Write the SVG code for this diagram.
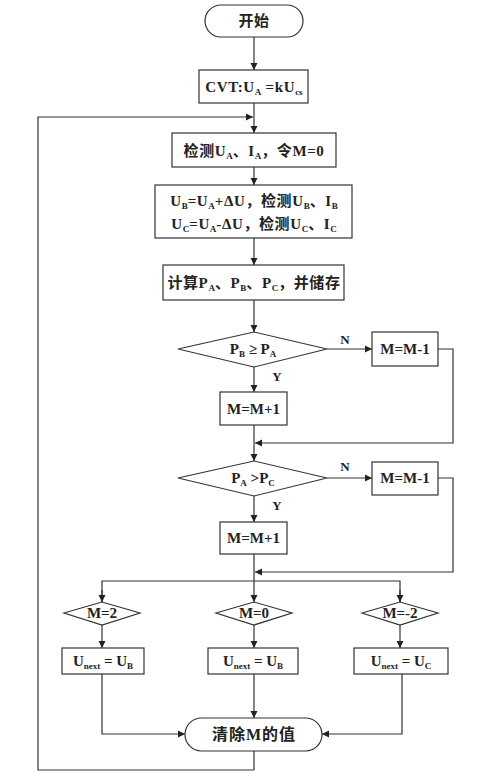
<svg xmlns="http://www.w3.org/2000/svg" width="499" height="782" viewBox="0 0 499 782">
<style>
.n{fill:#fff;stroke:#333;stroke-width:1.2}
.c{fill:none;stroke:#333;stroke-width:1.2}
text{font-family:"Liberation Serif","Noto Sans CJK SC",serif;font-size:15px;font-weight:bold;fill:#222;text-anchor:middle}
.w{letter-spacing:0.6px}
.s{font-size:9px;letter-spacing:0}
.l{font-size:13px}
</style>
<defs>
<marker id="a" markerWidth="8" markerHeight="8" refX="7" refY="4" orient="auto" markerUnits="userSpaceOnUse">
<path d="M0,0.5 L7,4 L0,7.5 Z" fill="#222"/>
</marker>
</defs>
<rect width="499" height="782" fill="#fff"/>
<g id="connectors">
<path class="c" d="M254,37 V70" marker-end="url(#a)"/>
<path class="c" d="M254,103 V133" marker-end="url(#a)"/>
<path class="c" d="M254,770 H38 V117 H253" marker-end="url(#a)"/>
<path class="c" d="M254,751 V770"/>
<path class="c" d="M254,167 V185" marker-end="url(#a)"/>
<path class="c" d="M254,238 V265" marker-end="url(#a)"/>
<path class="c" d="M254,300 V332" marker-end="url(#a)"/>
<path class="c" d="M327,349 H372" marker-end="url(#a)"/>
<path class="c" d="M438,349 H453 V443 H255" marker-end="url(#a)"/>
<path class="c" d="M254,367 V392" marker-end="url(#a)"/>
<path class="c" d="M254,425 V461" marker-end="url(#a)"/>
<path class="c" d="M327,478 H372" marker-end="url(#a)"/>
<path class="c" d="M438,478 H453 V572 H255" marker-end="url(#a)"/>
<path class="c" d="M254,496 V522" marker-end="url(#a)"/>
<path class="c" d="M254,554 V602" marker-end="url(#a)"/>
<path class="c" d="M102,602 V581 H400 V602" />
<path class="c" d="M102,590 V602" marker-end="url(#a)"/>
<path class="c" d="M400,590 V602" marker-end="url(#a)"/>
<path class="c" d="M102,625 V648" marker-end="url(#a)"/>
<path class="c" d="M254,625 V648" marker-end="url(#a)"/>
<path class="c" d="M400,625 V648" marker-end="url(#a)"/>
<path class="c" d="M102,674 V734 H185" marker-end="url(#a)"/>
<path class="c" d="M254,674 V718" marker-end="url(#a)"/>
<path class="c" d="M402,674 V734 H322" marker-end="url(#a)"/>
<text class="l" x="345" y="344">N</text>
<text class="l" x="277" y="381">Y</text>
<text class="l" x="345" y="471">N</text>
<text class="l" x="277" y="510">Y</text>
</g>
<g id="start">
<rect class="n" x="205" y="5" width="98" height="32" rx="16"/>
<text class="w" x="254" y="26">开始</text>
</g>
<g id="cvt">
<rect class="n" x="199" y="70" width="109" height="33"/>
<text class="w" x="254" y="92">CVT:U<tspan class="s" dy="3">A</tspan><tspan dy="-3"> =kU</tspan><tspan class="s" dy="3">cs</tspan></text>
</g>
<g id="detect">
<rect class="n" x="172" y="133" width="164" height="34"/>
<text class="w" x="254" y="156">检测U<tspan class="s" dy="3">A</tspan><tspan dy="-3">、I</tspan><tspan class="s" dy="3">A</tspan><tspan dy="-3">，令M=0</tspan></text>
</g>
<g id="perturb">
<rect class="n" x="155" y="185" width="197" height="53"/>
<text class="w" x="254" y="206">U<tspan class="s" dy="3">B</tspan><tspan dy="-3">=U</tspan><tspan class="s" dy="3">A</tspan><tspan dy="-3">+ΔU，检测U</tspan><tspan class="s" dy="3">B</tspan><tspan dy="-3">、I</tspan><tspan class="s" dy="3">B</tspan></text>
<text class="w" x="254" y="229">U<tspan class="s" dy="3">C</tspan><tspan dy="-3">=U</tspan><tspan class="s" dy="3">A</tspan><tspan dy="-3">-ΔU，检测U</tspan><tspan class="s" dy="3">C</tspan><tspan dy="-3">、I</tspan><tspan class="s" dy="3">C</tspan></text>
</g>
<g id="compute">
<rect class="n" x="163" y="265" width="181" height="35"/>
<text class="w" x="254" y="288">计算P<tspan class="s" dy="3">A</tspan><tspan dy="-3">、P</tspan><tspan class="s" dy="3">B</tspan><tspan dy="-3">、P</tspan><tspan class="s" dy="3">C</tspan><tspan dy="-3">，并储存</tspan></text>
</g>
<g id="dec1">
<polygon class="n" points="178,349 254,332 327,349 254,367"/>
<text x="253" y="354">P<tspan class="s" dy="3">B</tspan><tspan dy="-3"> ≥ P</tspan><tspan class="s" dy="3">A</tspan></text>
</g>
<g id="dec1n">
<rect class="n" x="372" y="332" width="66" height="34"/>
<text x="405" y="354">M=M-1</text>
</g>
<g id="dec1y">
<rect class="n" x="220" y="392" width="67" height="33"/>
<text x="253.5" y="414">M=M+1</text>
</g>
<g id="dec2">
<polygon class="n" points="178,478 254,461 327,478 254,496"/>
<text x="253" y="483">P<tspan class="s" dy="3">A</tspan><tspan dy="-3"> &gt;P</tspan><tspan class="s" dy="3">C</tspan></text>
</g>
<g id="dec2n">
<rect class="n" x="372" y="462" width="66" height="33"/>
<text x="405" y="483">M=M-1</text>
</g>
<g id="dec2y">
<rect class="n" x="220" y="522" width="67" height="32"/>
<text x="253.5" y="543">M=M+1</text>
</g>
<g id="m2">
<polygon class="n" points="64,613 102,602 140,613 102,625"/>
<text x="102" y="618">M=2</text>
</g>
<g id="m0">
<polygon class="n" points="216,613 254,602 292,613 254,625"/>
<text x="254" y="618">M=0</text>
</g>
<g id="mm2">
<polygon class="n" points="362,613 400,602 438,613 400,625"/>
<text x="400" y="618">M=-2</text>
</g>
<g id="u1">
<rect class="n" x="62" y="648" width="82" height="26"/>
<text x="103" y="666">U<tspan class="s" dy="3">next</tspan><tspan dy="-3"> = U</tspan><tspan class="s" dy="3">B</tspan></text>
</g>
<g id="u2">
<rect class="n" x="208" y="648" width="90" height="26"/>
<text x="253" y="666">U<tspan class="s" dy="3">next</tspan><tspan dy="-3"> = U</tspan><tspan class="s" dy="3">B</tspan></text>
</g>
<g id="u3">
<rect class="n" x="354" y="648" width="94" height="26"/>
<text x="401" y="666">U<tspan class="s" dy="3">next</tspan><tspan dy="-3"> = U</tspan><tspan class="s" dy="3">C</tspan></text>
</g>
<g id="end">
<rect class="n" x="185" y="718" width="137" height="33" rx="16.5"/>
<text x="254" y="740" style="font-size:16px;letter-spacing:1px">清除M的值</text>
</g>
</svg>
